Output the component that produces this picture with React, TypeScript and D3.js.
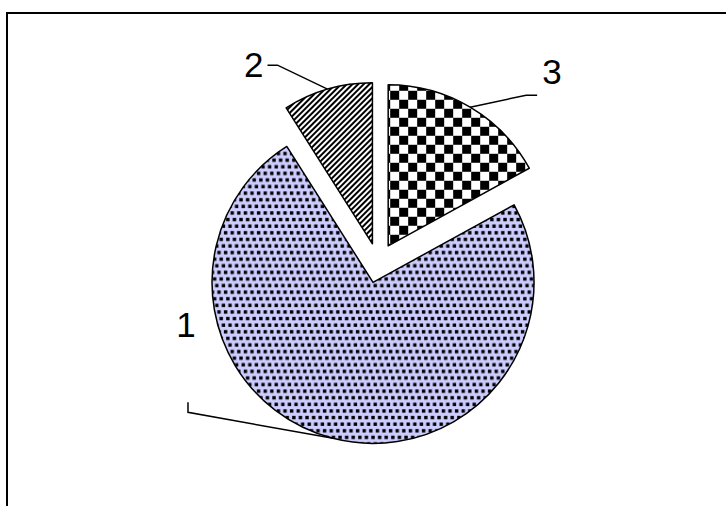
import React, { useRef, useEffect } from "react";
import * as d3 from "d3";

// category names and their shares
const categories = ["1", "2", "3"];
const values = [74, 9, 17];
const fills = ["url(#dots)", "url(#stripes)", "url(#checker)"];

// leader line + label offsets from each slice's arc midpoint (px)
const labelLayout = [
  { elbow: [-145, -26], end: [-145, -36], text: [-147, -101], anchor: "middle" },
  { elbow: [-50, -24], end: [-60, -24], text: [-64, -12], anchor: "end" },
  { elbow: [56, -12], end: [67, -12], text: [72, -23], anchor: "start" },
];

const PieChart = () => {
  const ref = useRef<SVGSVGElement>(null);

  useEffect(() => {
    const width = 726;
    const height = 506;
    const cx = 378;
    const cy = 263;
    const radius = 161;
    const explode = 20;

    const svg = d3.select(ref.current);
    svg.selectAll("*").remove();
    svg.attr("width", width).attr("height", height);

    const defs = svg.append("defs");

    // confetti-like dots: three rows per tile, each shifted a third of a step
    const step = 6.6;
    const dots = defs
      .append("pattern")
      .attr("id", "dots")
      .attr("patternUnits", "userSpaceOnUse")
      .attr("width", step)
      .attr("height", step * 3);
    dots.append("rect").attr("width", step).attr("height", step * 3).attr("fill", "#ccccff");
    [0, 1, 2].forEach((r) => {
      [-1, 0].forEach((k) => {
        dots
          .append("rect")
          .attr("x", ((r * step) / 3) % step + k * step + 0.5)
          .attr("y", r * step + 1.5)
          .attr("width", 3.4)
          .attr("height", 3.4)
          .attr("fill", "#000");
      });
      dots
        .append("rect")
        .attr("x", ((r * step) / 3) % step + step + 0.5)
        .attr("y", r * step + 1.5)
        .attr("width", 3.4)
        .attr("height", 3.4)
        .attr("fill", "#000");
    });

    const stripes = defs
      .append("pattern")
      .attr("id", "stripes")
      .attr("patternUnits", "userSpaceOnUse")
      .attr("width", 4)
      .attr("height", 10)
      .attr("patternTransform", "rotate(45)");
    stripes.append("rect").attr("width", 4).attr("height", 10).attr("fill", "#fff");
    stripes.append("rect").attr("width", 2).attr("height", 10).attr("fill", "#000");

    const checker = defs
      .append("pattern")
      .attr("id", "checker")
      .attr("patternUnits", "userSpaceOnUse")
      .attr("x", 389)
      .attr("y", 88)
      .attr("width", 18)
      .attr("height", 18);
    checker.append("rect").attr("width", 18).attr("height", 18).attr("fill", "#fff");
    checker.append("rect").attr("width", 9).attr("height", 9).attr("fill", "#000");
    checker.append("rect").attr("x", 9).attr("y", 9).attr("width", 9).attr("height", 9).attr("fill", "#000");

    // chart area border (runs off the right and bottom edges)
    svg
      .append("rect")
      .attr("x", 7)
      .attr("y", 13)
      .attr("width", 740)
      .attr("height", 520)
      .attr("fill", "none")
      .attr("stroke", "#000")
      .attr("stroke-width", 2);

    const total = d3.sum(values);
    // last slice begins at 12 o'clock
    const start = (2 * Math.PI * (total - values[values.length - 1])) / total;
    const pie = d3
      .pie<number>()
      .sort(null)
      .startAngle(-start)
      .endAngle(2 * Math.PI - start);
    const arcs = pie(values);

    const arc = d3.arc<d3.PieArcDatum<number>>().innerRadius(0).outerRadius(radius);

    const g = svg.append("g").attr("transform", `translate(${cx},${cy})`);

    const shift = (d: d3.PieArcDatum<number>) => {
      const a = (d.startAngle + d.endAngle) / 2;
      return [Math.sin(a) * explode, -Math.cos(a) * explode];
    };

    g.selectAll("path.slice")
      .data(arcs)
      .enter()
      .append("path")
      .attr("class", "slice")
      .attr("transform", (d) => {
        const [dx, dy] = shift(d);
        return `translate(${dx},${dy})`;
      })
      .attr("d", arc)
      .attr("fill", (d, i) => fills[i])
      .attr("stroke", "#000")
      .attr("stroke-width", 1.5)
      .attr("stroke-linejoin", "round");

    arcs.forEach((d, i) => {
      const a = (d.startAngle + d.endAngle) / 2;
      const [dx, dy] = shift(d);
      const mx = dx + Math.sin(a) * radius;
      const my = dy - Math.cos(a) * radius;
      const lay = labelLayout[i];
      g.append("polyline")
        .attr(
          "points",
          [
            [mx, my],
            [mx + lay.elbow[0], my + lay.elbow[1]],
            [mx + lay.end[0], my + lay.end[1]],
          ]
            .map((p) => p.join(","))
            .join(" ")
        )
        .attr("fill", "none")
        .attr("stroke", "#000")
        .attr("stroke-width", 1.5);
      g.append("text")
        .attr("x", mx + lay.text[0])
        .attr("y", my + lay.text[1])
        .attr("text-anchor", lay.anchor)
        .style("font-family", "'Liberation Sans', Arial, sans-serif")
        .style("font-size", "35px")
        .text(categories[i]);
    });
  }, []);

  return <svg ref={ref} style={{ position: "absolute", left: 0, top: 0 }}></svg>;
};

export default function App() {
  return <PieChart />;
}
